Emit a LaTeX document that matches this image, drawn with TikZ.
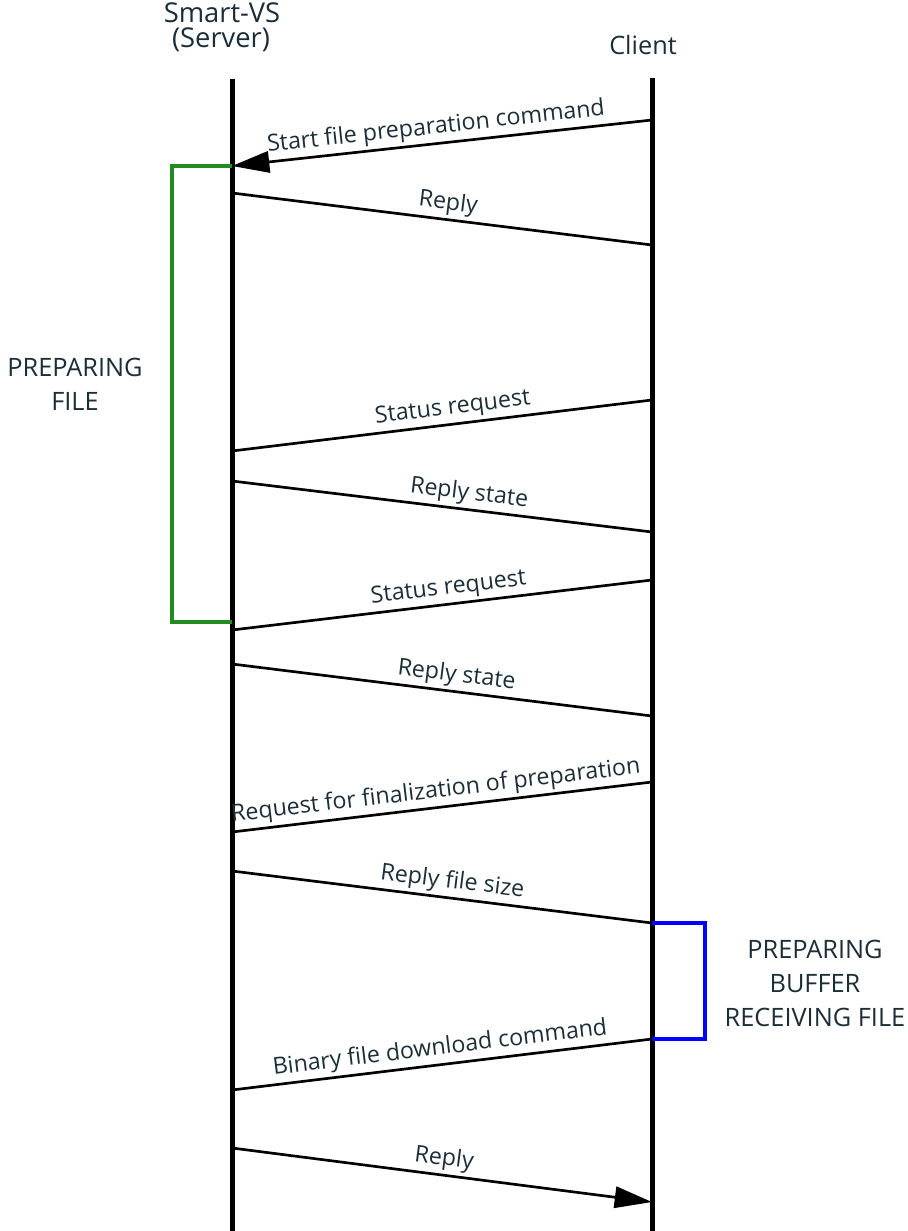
\documentclass[tikz,border=0pt]{standalone}
\usepackage{fontspec}
\setmainfont{Open Sans}
\usetikzlibrary{arrows.meta,positioning}
\definecolor{inkgray}{RGB}{28,46,56}
\definecolor{prepgreen}{RGB}{34,139,34}
\begin{document}
\begin{tikzpicture}[x=0.75pt, y=-0.75pt, font=\fontsize{19}{25.5}\selectfont, text=inkgray,
  life/.style={line width=3.75pt}, msg/.style={line width=2pt},
  lbl/.style={above, sloped, inner sep=4pt, text depth=0.25em, font=\fontsize{17.4}{20}\selectfont},
  hdr/.style={anchor=base, font=\fontsize{20.5}{24}\selectfont},
  brk/.style={line width=3.5pt, draw=#1}, >={Triangle[length=28pt,width=16pt]}]
\useasboundingbox (0,0) rectangle (907,1231);
\node[hdr] (srv) at (222,23) {Smart-VS}; \node[hdr] (srv2) at (221,48) {(Server)}; \node[anchor=base] (cli) at (643,55) {Client};
\coordinate (stop) at (232,79); \coordinate (sbot) at (232,1231); \coordinate (ctop) at (652,78); \coordinate (cbot) at (652,1231);
\draw[life] (stop) -- (sbot); \draw[life] (ctop) -- (cbot);
% messages: index / server y / client y / label pos / tip / text
\foreach \i/\s/\c/\p/\a/\t in {1/166/120/.49/<-/Start file preparation command, 2/193/245/.51/-/Reply,
  3/451/400/.53/-/Status request, 4/481/532/.56/-/Reply state, 5/630/580/.52/-/Status request,
  6/664/716/.53/-/Reply state, 7/832/782/.49/-/Request for finalization of preparation,
  8/871/923/.52/-/Reply file size, 9/1090/1039/.5/-/Binary file download command, 10/1148/1202/.5/->/Reply}{
  \coordinate (s\i) at (232,\s); \coordinate (c\i) at (652,\c);
  \draw[msg,\a] (s\i) -- (c\i) node[lbl,pos=\p] {\t};
}
\coordinate (gend) at (232,622);
\draw[brk=prepgreen] (s1) -- ++(-60,0) |- (gend); \draw[brk=blue] (c8) -- ++(53,0) |- (c9);
\node[align=center] (prepfile) at (75,384) {PREPARING\\FILE};
\node[align=center] (prepbuf) at (815,983) {PREPARING\\BUFFER\\RECEIVING FILE};
\end{tikzpicture}
\end{document}
